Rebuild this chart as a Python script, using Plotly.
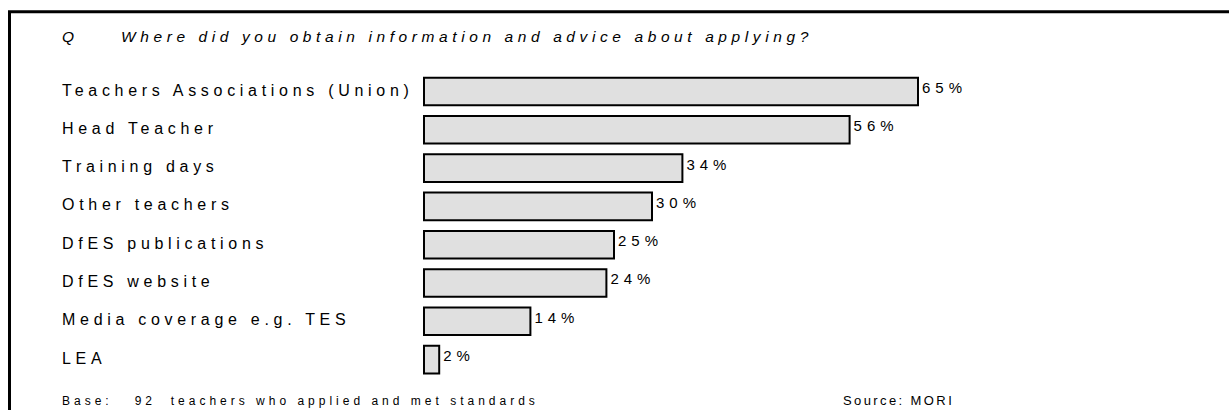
import plotly.graph_objects as go

# ---- data ----
categories = [
    "Teachers Associations (Union)",
    "Head Teacher",
    "Training days",
    "Other teachers",
    "DfES publications",
    "DfES website",
    "Media coverage e.g. TES",
    "LEA",
]
values = [65, 56, 34, 30, 25, 24, 14, 2]
value_labels = ["65%", "56%", "34%", "30%", "25%", "24%", "14%", "2%"]
question_mark = "Q"
question = "Where did you obtain information and advice about applying?"
base_note = "Base:\u00a0\u00a0 92\u00a0 teachers who applied and met standards"
source_note = "Source: MORI"

# ---- layout constants (pixels) ----
W, H = 1229, 410
ZERO_X = 424          # pixel where bars start
PX_PER_PCT = 7.6
FIRST_Y = 91.5        # pixel centre of first bar
PITCH = 38.3          # pixel distance between bars
N = len(categories)
FONT = "Liberation Sans, Arial, sans-serif"


def dx(px):
    """pixel x -> data x"""
    return (px - ZERO_X) / PX_PER_PCT


def dy(py):
    """pixel y -> data y (category index, reversed axis)"""
    return (py - FIRST_Y) / PITCH


idx = list(range(N))

fig = go.Figure()
fig.add_trace(go.Bar(
    x=values, y=idx, orientation="h", width=0.72,
    marker=dict(color="#e0e0e0", line=dict(color="#000000", width=2)),
    hoverinfo="skip",
))
# category labels (left aligned)
fig.add_trace(go.Scatter(
    x=[dx(62)] * N, y=idx, mode="text", text=categories,
    textposition="middle right", hoverinfo="skip",
    textfont=dict(family=FONT, size=16, color="#000000"),
))
# value labels
fig.add_trace(go.Scatter(
    x=[v + 4 / PX_PER_PCT for v in values], y=[i - 0.06 for i in idx],
    mode="text", text=value_labels,
    textposition="middle right", hoverinfo="skip",
    textfont=dict(family=FONT, size=15, color="#000000"),
))
# question
fig.add_trace(go.Scatter(
    x=[dx(62), dx(121)], y=[dy(38.5), dy(38.5)], mode="text",
    text=[question_mark, question],
    textposition="middle right", hoverinfo="skip",
    textfont=dict(family=FONT, size=15.5, color="#000000", style="italic"),
))
# footer
fig.add_trace(go.Scatter(
    x=[dx(62)], y=[dy(402)], mode="text", text=[base_note],
    textposition="middle right", hoverinfo="skip",
    textfont=dict(family=FONT, size=12, color="#000000"),
))
fig.add_trace(go.Scatter(
    x=[dx(843)], y=[dy(402)], mode="text", text=[source_note],
    textposition="middle right", hoverinfo="skip",
    textfont=dict(family=FONT, size=13, color="#000000"),
))

fig.update_layout(
    width=W, height=H,
    margin=dict(l=0, r=0, t=0, b=0, pad=0),
    paper_bgcolor="#ffffff", plot_bgcolor="#ffffff",
    showlegend=False,
    xaxis=dict(range=[dx(0), dx(W)], visible=False, fixedrange=True),
    yaxis=dict(range=[dy(H), dy(0)], visible=False, fixedrange=True),
    shapes=[dict(
        type="rect", xref="x", yref="y",
        x0=dx(9.5), x1=dx(1245), y0=dy(430), y1=dy(11.7),
        line=dict(color="#000000", width=3), fillcolor="rgba(0,0,0,0)",
    )],
)

post = """
var st = document.createElement('style');
st.textContent = 'body{margin:0;padding:0;}' +
  'text[style*="font-size: 16px"]{letter-spacing:4.7px;}' +
  'text[style*="font-size: 15px"]{letter-spacing:5px;}' +
  'text[style*="font-size: 15.5px"]{letter-spacing:4.6px;}' +
  'text[style*="font-size: 12px"]{letter-spacing:4px;}' +
  'text[style*="font-size: 13px"]{letter-spacing:2.4px;}';
document.head.appendChild(st);
"""

fig.write_html("out.html", post_script=post, config={"staticPlot": True})
